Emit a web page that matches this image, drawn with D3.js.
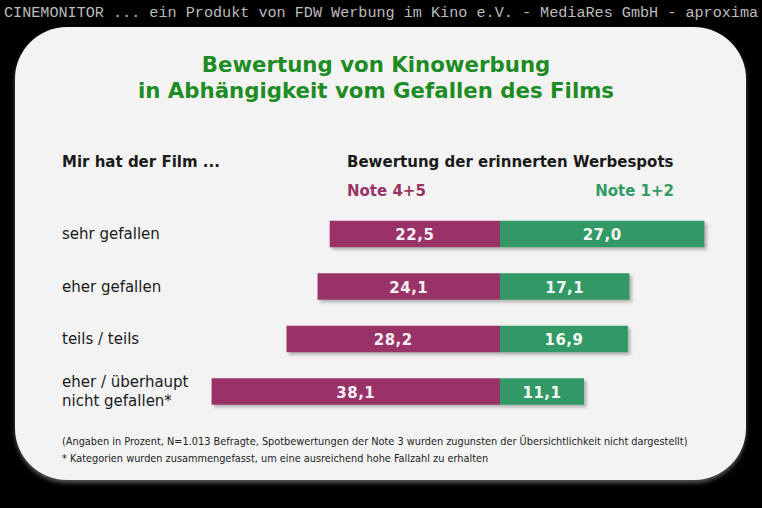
<!DOCTYPE html>
<html>
<head>
<meta charset="utf-8">
<script src="https://cdn.jsdelivr.net/npm/d3@7"></script>
<style>
  html, body { margin: 0; padding: 0; background: #000; }
  svg { display: block; }
</style>
</head>
<body>
<svg id="chart" width="762" height="508"></svg>
<script>
// ---- data ----
const categories = ["sehr gefallen", "eher gefallen", "teils / teils", "eher / überhaupt\nnicht gefallen*"];
const note45 = [22.5, 24.1, 28.2, 38.1];   // negative side (magenta)
const note12 = [27.0, 17.1, 16.9, 11.1];   // positive side (green)
const seriesNames = ["Note 4+5", "Note 1+2"];
const headerText = "CINEMONITOR ... ein Produkt von FDW Werbung im Kino e.V. - MediaRes GmbH - aproxima";
const titleLines = ["Bewertung von Kinowerbung", "in Abhängigkeit vom Gefallen des Films"];
const leftHeading = "Mir hat der Film ...";
const rightHeading = "Bewertung der erinnerten Werbespots";
const footnotes = [
  "(Angaben in Prozent, N=1.013 Befragte, Spotbewertungen der Note 3 wurden zugunsten der Übersichtlichkeit nicht dargestellt)",
  "* Kategorien wurden zusammengefasst, um eine ausreichend hohe Fallzahl zu erhalten"
];

const fmt = v => d3.format(".1f")(v).replace(".", ",");

const svg = d3.select("#chart");
const W = 762, H = 508;
const MAG = "#993366", GRN = "#339966";
const FONT = "'DejaVu Sans', Verdana, sans-serif";
const FONTC = "'DejaVu Sans Condensed', 'DejaVu Sans', Verdana, sans-serif";

// defs
const defs = svg.append("defs");
const sh = defs.append("filter").attr("id", "shadow").attr("x", "-10%").attr("y", "-30%").attr("width", "130%").attr("height", "190%");
sh.append("feDropShadow").attr("dx", 2.5).attr("dy", 2.5).attr("stdDeviation", 1.5).attr("flood-color", "#888").attr("flood-opacity", 0.6);
const psh = defs.append("filter").attr("id", "pshadow").attr("x", "-5%").attr("y", "-5%").attr("width", "110%").attr("height", "115%");
psh.append("feDropShadow").attr("dx", 0).attr("dy", 3).attr("stdDeviation", 2).attr("flood-color", "#777").attr("flood-opacity", 0.7);

// background
svg.append("rect").attr("width", W).attr("height", H).attr("fill", "#000");

// header
svg.append("text").attr("x", 4).attr("y", 17)
  .attr("font-family", "'Liberation Mono', 'DejaVu Sans Mono', monospace")
  .attr("font-size", 15.15).attr("fill", "#bcbcbc")
  .text(headerText);

// panel
svg.append("rect").attr("x", 15).attr("y", 27).attr("width", 731).attr("height", 453)
  .attr("rx", 52).attr("ry", 52).attr("fill", "#f3f3f3").attr("filter", "url(#pshadow)");

// title
const title = svg.append("g");
titleLines.forEach((t, i) => {
  title.append("text").attr("x", 376).attr("y", 72 + i * 26)
    .attr("text-anchor", "middle")
    .attr("font-family", FONT).attr("font-weight", "bold")
    .attr("font-size", 21.3).attr("fill", "#1e8c23")
    .text(t);
});

// headings
svg.append("text").attr("x", 62).attr("y", 167)
  .attr("font-family", FONT).attr("font-weight", "bold").attr("font-size", 15).attr("fill", "#1a1a1a")
  .text(leftHeading);
svg.append("text").attr("x", 347).attr("y", 167)
  .attr("font-family", FONT).attr("font-weight", "bold").attr("font-size", 15).attr("fill", "#1a1a1a")
  .text(rightHeading);
svg.append("text").attr("x", 347).attr("y", 196)
  .attr("font-family", FONT).attr("font-weight", "bold").attr("font-size", 15).attr("fill", MAG)
  .text(seriesNames[0]);
svg.append("text").attr("x", 674).attr("y", 196).attr("text-anchor", "end")
  .attr("font-family", FONT).attr("font-weight", "bold").attr("font-size", 15).attr("fill", GRN)
  .text(seriesNames[1]);

// scales
const x = d3.scaleLinear().domain([-40, 40]).range([500 - 40 * 7.57, 500 + 40 * 7.57]);
const y = d3.scalePoint().domain(categories).range([234, 391.5]);
const barH = 26.5;

const rows = categories.map((c, i) => ({ c, neg: note45[i], pos: note12[i] }));

const g = svg.append("g");
const row = g.selectAll("g.row").data(rows).join("g").attr("class", "row");

// bar group with shadow
row.append("g").attr("filter", "url(#shadow)").call(s => {
  s.append("rect")
    .attr("x", d => x(-d.neg)).attr("y", d => y(d.c) - barH / 2)
    .attr("width", d => x(0) - x(-d.neg)).attr("height", barH).attr("fill", MAG);
  s.append("rect")
    .attr("x", x(0)).attr("y", d => y(d.c) - barH / 2)
    .attr("width", d => x(d.pos) - x(0)).attr("height", barH).attr("fill", GRN);
});

// value labels
row.append("text")
  .attr("x", d => (x(-d.neg) + x(0)) / 2).attr("y", d => y(d.c) + 1).attr("dy", "0.36em")
  .attr("text-anchor", "middle").attr("font-family", FONT).attr("font-weight", "bold")
  .attr("font-size", 15).attr("fill", "#f6f0f4").attr("letter-spacing", 0.5)
  .text(d => fmt(d.neg));
row.append("text")
  .attr("x", d => (x(d.pos) + x(0)) / 2).attr("y", d => y(d.c) + 1).attr("dy", "0.36em")
  .attr("text-anchor", "middle").attr("font-family", FONT).attr("font-weight", "bold")
  .attr("font-size", 15).attr("fill", "#f4f8f4").attr("letter-spacing", 0.5)
  .text(d => fmt(d.pos));

// category labels
row.each(function (d) {
  const lines = d.c.split("\n");
  const t = d3.select(this).append("text")
    .attr("x", 62).attr("font-family", FONT).attr("font-size", 15).attr("fill", "#1a1a1a");
  lines.forEach((ln, i) => {
    t.append("tspan").attr("x", 62)
      .attr("y", y(d.c) + (i - (lines.length - 1) / 2) * 19).attr("dy", "0.36em")
      .text(ln);
  });
});

// footnotes
footnotes.forEach((f, i) => {
  svg.append("text").attr("x", 62).attr("y", 445 + i * 17)
    .attr("font-family", FONTC).attr("font-size", 10.85).attr("fill", "#222")
    .text(f);
});
</script>
</body>
</html>
